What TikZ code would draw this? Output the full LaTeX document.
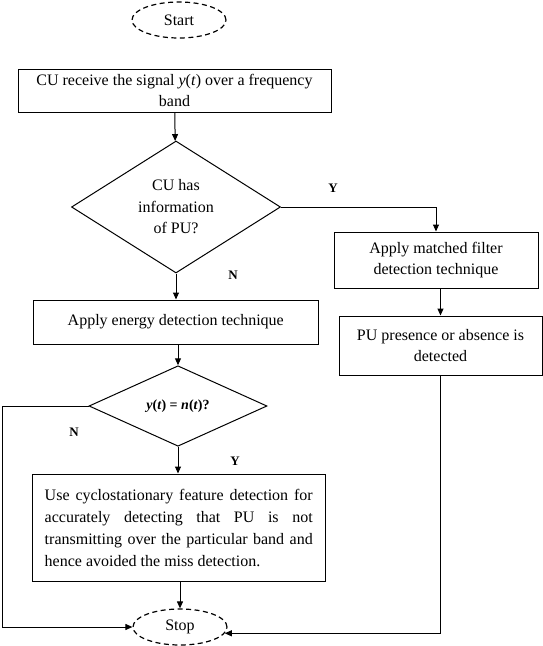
\documentclass[tikz,border=0pt]{standalone}
\usepackage{fontspec}
\setmainfont{Liberation Serif}
\usetikzlibrary{shapes.geometric,arrows.meta}
\begin{document}
\begin{tikzpicture}[x=1pt,y=-1pt,
 every node/.style={font=\fontsize{16}{21.5}\selectfont},
 proc/.style={draw,line width=1pt,align=center,inner sep=2pt},
 term/.style={draw,ellipse,line width=1.2pt,dash pattern=on 5pt off 3.5pt,minimum width=94pt,minimum height=36pt,inner sep=0pt},
 dec/.style={draw,diamond,line width=1pt,inner sep=0pt,align=center},
 lbl/.style={font=\fontsize{13}{15}\selectfont\bfseries},
 arr/.style={line width=1pt,-{Triangle[length=7pt,width=6pt]}},
 ln/.style={line width=1pt}]
\useasboundingbox (0,0) rectangle (543,646);
\node[term] (start) at (179,20) {Start};
\node[proc,minimum width=313pt,minimum height=43pt] (recv) at (174.5,90.5) {CU receive the signal \textit{y}(\textit{t}) over a frequency\\band};
\node[dec,aspect=1.6,minimum width=209pt,minimum height=132pt] (d1) at (176,207) {CU has\\information\\of PU?};
\node[proc,minimum width=204pt,minimum height=56pt] (mf) at (436,260) {Apply matched filter\\detection technique};
\node[proc,minimum width=285.5pt,minimum height=44pt] (en) at (175.75,322) {Apply energy detection technique};
\node[proc,minimum width=203pt,minimum height=59pt] (pu) at (440.5,345.5) {PU presence or absence is\\detected};
\node[dec,aspect=2.2,minimum width=178pt,minimum height=80.5pt,font=\fontsize{14}{16}\selectfont\bfseries] (d2) at (178,406) {\textit{y}(\textit{t}) = \textit{n}(\textit{t})?};
\node[proc,minimum width=293.5pt,minimum height=107pt,text width=268pt,align=justify,inner sep=0pt,font=\fontsize{16}{22}\selectfont] (cy) at (178.75,527.5) {\hyphenpenalty=10000\relax Use cyclostationary feature detection for\linebreak accurately detecting that PU is not\linebreak transmitting over the particular band and\linebreak hence avoided the miss detection.};
\node[term] (stop) at (180,627) {Stop};
\node[lbl] (ly1) at (333,188) {Y};
\node[lbl] (ln1) at (233,275) {N};
\node[lbl] (ln2) at (74,432) {N};
\node[lbl] (ly2) at (235,461) {Y};
\coordinate (lc) at (2,406);
\draw[arr] (recv) -- (d1);
\draw[arr] (d1.east) -| (mf.north);
\draw[arr] (d1.south) -- (en.north -| d1.south);
\draw[arr] (mf.south -| pu.north) -- (pu.north);
\draw[arr] (en.south -| d2.north) -- (d2.north);
\draw[arr] (d2.south) -- (cy.north -| d2.south);
\draw[arr] (cy.south -| stop.north) -- (stop.north);
\draw[arr] (d2.west) -- (lc) |- (stop.west);
\draw[arr] (pu.south) |- (stop.-8);
\end{tikzpicture}
\end{document}
